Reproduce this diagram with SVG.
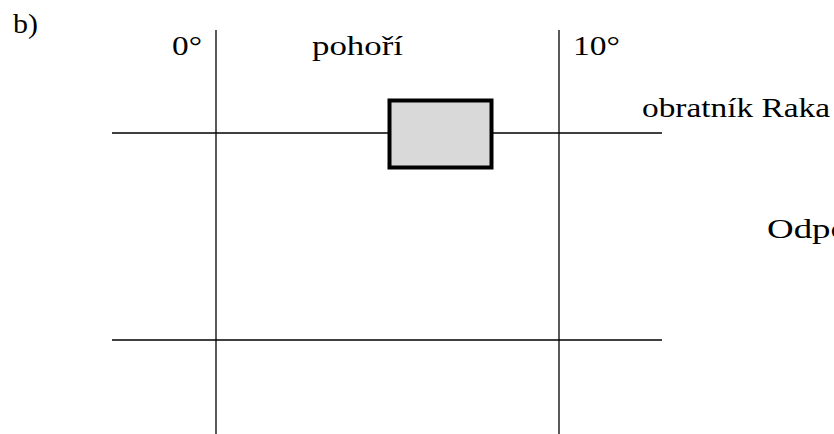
<svg xmlns="http://www.w3.org/2000/svg" width="834" height="434" viewBox="0 0 834 434">
<style>
.t{font-family:"Liberation Serif","Times New Roman",serif;font-size:27px;fill:#000}
.ln{stroke:#000;stroke-width:1.3;fill:none}
</style>
<rect width="834" height="434" fill="#fff"/>
<g id="grid">
<line class="ln" x1="216" y1="30" x2="216" y2="434"/>
<line class="ln" x1="559" y1="30" x2="559" y2="434"/>
<line class="ln" x1="112" y1="133" x2="662" y2="133"/>
<line class="ln" x1="112" y1="340" x2="662" y2="340"/>
</g>
<g id="mountains">
<rect x="389.5" y="100.5" width="102" height="67" fill="#d9d9d9" stroke="#000" stroke-width="4"/>
</g>
<g id="labels">
<text class="t" x="13" y="33" textLength="25" lengthAdjust="spacingAndGlyphs">b)</text>
<text class="t" x="172" y="55" textLength="30" lengthAdjust="spacingAndGlyphs">0°</text>
<text class="t" x="312" y="55" textLength="91" lengthAdjust="spacingAndGlyphs">pohoří</text>
<text class="t" x="573" y="55" textLength="47" lengthAdjust="spacingAndGlyphs">10°</text>
<text class="t" x="642" y="117" textLength="188" lengthAdjust="spacingAndGlyphs">obratník Raka</text>
<text class="t" x="767" y="238" textLength="82" lengthAdjust="spacingAndGlyphs">Odpo</text>
</g>
</svg>
